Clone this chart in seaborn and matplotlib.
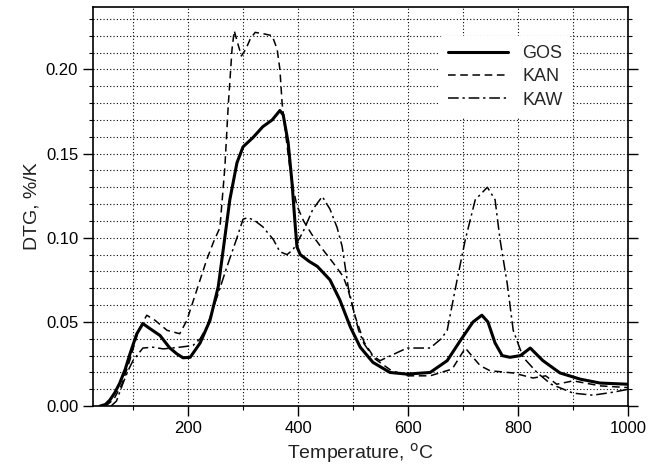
import pandas as pd
import seaborn as sns
import matplotlib.pyplot as plt
from matplotlib.ticker import MultipleLocator

# --- DATA ---
gos_t = [40, 50, 58, 67, 76, 86, 95, 107, 118, 131, 149, 167, 180, 191, 204, 222, 240, 255,
         264, 276, 289, 300, 318, 336, 353, 367, 373, 382, 389, 395, 398, 404, 420, 435, 458,
         476, 495, 513, 536, 567, 598, 640, 671, 695, 718, 734, 745, 758, 771, 785, 804, 822,
         845, 876, 913, 949, 1000]
gos_v = [0.0, 0.001, 0.0036, 0.008, 0.0137, 0.022, 0.0315, 0.043, 0.049, 0.046, 0.042, 0.0345,
         0.031, 0.0287, 0.029, 0.0375, 0.051, 0.071, 0.093, 0.1226, 0.1446, 0.154, 0.1595, 0.166,
         0.170, 0.1756, 0.173, 0.1565, 0.1327, 0.1065, 0.0946, 0.09, 0.086, 0.083, 0.075, 0.063,
         0.047, 0.035, 0.026, 0.020, 0.019, 0.020, 0.027, 0.039, 0.050, 0.054, 0.050, 0.0375,
         0.030, 0.029, 0.030, 0.0345, 0.027, 0.0197, 0.016, 0.0137, 0.013]

kan_t = [50, 65, 80, 95, 110, 125, 140, 162, 185, 198, 209, 222, 234, 247, 258, 267, 273, 280,
         284, 289, 297, 305, 313, 322, 340, 353, 362, 367, 371, 378, 385, 392, 398, 410, 425,
         445, 464, 482, 491, 505, 520, 540, 570, 600, 640, 680, 704, 718, 731, 749, 791, 827,
         850, 870, 900, 950, 1000]
kan_v = [0.0, 0.004, 0.013, 0.028, 0.045, 0.054, 0.051, 0.045, 0.043, 0.051, 0.062, 0.075,
         0.087, 0.098, 0.106, 0.142, 0.178, 0.212, 0.223, 0.217, 0.208, 0.212, 0.218, 0.222,
         0.221, 0.220, 0.212, 0.200, 0.18, 0.16, 0.142, 0.128, 0.119, 0.11, 0.102, 0.093, 0.085,
         0.077, 0.069, 0.052, 0.038, 0.028, 0.021, 0.018, 0.018, 0.022, 0.0345, 0.029, 0.024,
         0.021, 0.0197, 0.0167, 0.018, 0.013, 0.015, 0.012, 0.011]

kaw_t = [60, 70, 82, 91, 100, 118, 136, 155, 185, 209, 222, 234, 253, 271, 289, 300, 309, 322,
         336, 355, 367, 380, 391, 409, 427, 444, 458, 471, 480, 491, 500, 510, 520, 535, 549,
         575, 598, 640, 660, 671, 689, 704, 722, 744, 758, 767, 780, 791, 809, 835, 860, 900,
         936, 973, 1000]
kaw_v = [0.0, 0.003, 0.0137, 0.021, 0.027, 0.0345, 0.035, 0.034, 0.035, 0.036, 0.040, 0.047,
         0.065, 0.083, 0.100, 0.111, 0.112, 0.110, 0.1065, 0.099, 0.0917, 0.090, 0.093, 0.1035,
         0.117, 0.1245, 0.117, 0.106, 0.095, 0.071, 0.058, 0.045, 0.037, 0.030, 0.027, 0.031,
         0.0345, 0.0345, 0.040, 0.045, 0.075, 0.099, 0.1226, 0.130, 0.1226, 0.099, 0.073, 0.045,
         0.029, 0.0197, 0.013, 0.0077, 0.0065, 0.0083, 0.010]

# --- STYLE ---
sns.set_theme(style="ticks")
plt.rcParams['font.family'] = ['Liberation Sans', 'DejaVu Sans']

fig = plt.figure(figsize=(6.49, 4.75), dpi=100)
ax = fig.add_axes([0.143, 0.145, 0.825, 0.840])

# solid / dashed / dash-dot, all black
sns.lineplot(x=gos_t, y=gos_v, ax=ax, color='black', linewidth=2.2, label='GOS')
sns.lineplot(x=kan_t, y=kan_v, ax=ax, color='black', linewidth=1.1,
             linestyle=(0, (5, 3)), label='KAN')
sns.lineplot(x=kaw_t, y=kaw_v, ax=ax, color='black', linewidth=1.1,
             linestyle=(0, (7, 2.5, 1.5, 2.5)), label='KAW')

ax.set_xlim(27, 1000)
ax.set_ylim(0, 0.237)
ax.xaxis.set_major_locator(MultipleLocator(200))
ax.xaxis.set_minor_locator(MultipleLocator(100))
ax.yaxis.set_major_locator(MultipleLocator(0.05))
ax.yaxis.set_minor_locator(MultipleLocator(0.01))
ax.yaxis.set_major_formatter(plt.FormatStrFormatter('%.2f'))

# dotted grid on every 100 C and every 0.01
ax.grid(which='both', color='black', linestyle=(0, (1, 2)), linewidth=0.8)
ax.set_axisbelow(True)

ax.tick_params(which='both', direction='out', colors='black', labelsize=12,
               left=True, right=True, bottom=True, top=False)
ax.tick_params(which='major', length=7, width=1)
ax.tick_params(which='minor', length=3, width=0.8)
for s in ax.spines.values():
    s.set_color('black')
    s.set_linewidth(1.2)

ax.set_xlabel("Temperature, $^{\\mathrm{o}}$C", fontsize=14, color='#222222')
ax.set_ylabel("DTG, %/K", fontsize=14, color='#222222')

leg = ax.legend(loc='upper left', bbox_to_anchor=(0.63, 0.95), fontsize=13,
                frameon=True, handlelength=3.3, labelspacing=0.35, borderpad=0.5)
leg.get_frame().set_facecolor('white')
leg.get_frame().set_edgecolor('none')
leg.get_frame().set_alpha(1)

plt.savefig("out.png", dpi=100)
